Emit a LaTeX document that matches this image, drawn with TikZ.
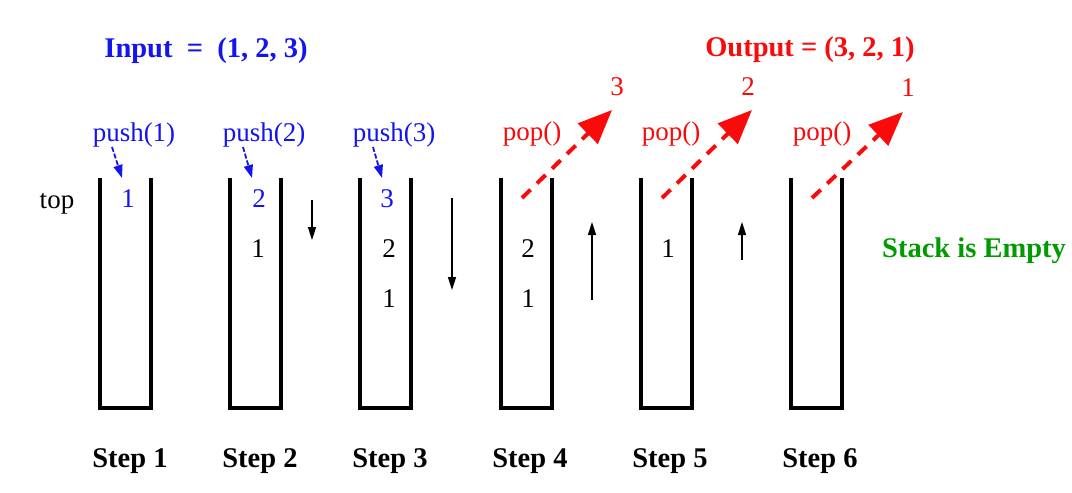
\documentclass[tikz,border=0pt]{standalone}
\usepackage{fontspec}
\setmainfont{Liberation Serif}
\usetikzlibrary{arrows.meta}
\definecolor{ublue}{RGB}{20,20,240}
\definecolor{ured}{RGB}{250,10,10}
\definecolor{ugreen}{RGB}{0,155,0}
\begin{document}
\begin{tikzpicture}[x=1pt,y=-1pt,
  txt/.style={font=\fontsize{27}{30}\selectfont, inner sep=0pt, anchor=base},
  btxt/.style={txt, font=\fontsize{28.5}{30}\selectfont\bfseries},
  wall/.style={line width=4pt, line join=miter},
  pusharr/.style={ublue, line width=1.8pt, dash pattern=on 5pt off 2pt, -{Triangle[length=13pt,width=9pt]}},
  poparr/.style={ured, line width=4pt, dash pattern=on 12pt off 9pt, -{Triangle[length=34pt,width=28pt]}},
  movearr/.style={black, line width=1.6pt, -{Triangle[length=13pt,width=8pt]}}]
\fill[white] (0,0) rectangle (1072,493);
\useasboundingbox (0,0) rectangle (1072,493);

% titles
\node[btxt, ublue] (inp) at (206,57) {Input\ \ =\ \ (1, 2, 3)};
\node[btxt, ured] (outp) at (810,56) {Output = (3, 2, 1)};
\node[btxt, ugreen, anchor=base west] (empty) at (882,257) {Stack is Empty};
\node[txt] (top) at (57,208) {top};

% stacks
\foreach \x [count=\i] in {100,230,360,501,641,791}{
  \coordinate (s\i tl) at (\x,178);
  \coordinate (s\i tr) at (\x+51,178);
  \draw[wall] (s\i tl) -- (\x,408) -- (\x+51,408) -- (s\i tr);
}

% stack contents
\node[txt, ublue] (a1) at (128,207) {1};
\node[txt, ublue] (b2) at (259,207) {2};
\node[txt] (b1) at (258,257) {1};
\node[txt, ublue] (c3) at (387,207) {3};
\node[txt] (c2) at (389,257) {2};
\node[txt] (c1) at (389,307) {1};
\node[txt] (d2) at (528,257) {2};
\node[txt] (d1) at (528,307) {1};
\node[txt] (e1) at (668,257) {1};

% operation labels
\node[txt, ublue] (push1) at (134,141) {push(1)};
\node[txt, ublue] (push2) at (264,141) {push(2)};
\node[txt, ublue] (push3) at (394,141) {push(3)};
\node[txt, ured] (pop4) at (532,140) {pop()};
\node[txt, ured] (pop5) at (671,140) {pop()};
\node[txt, ured] (pop6) at (822,140) {pop()};

% output values
\node[txt, ured] (o3) at (617,95) {3};
\node[txt, ured] (o2) at (748,95) {2};
\node[txt, ured] (o1) at (908,96) {1};

% push arrows
\coordinate (p1s) at (112,147); \coordinate (p1e) at (122,178);
\coordinate (p2s) at (243,147); \coordinate (p2e) at (252,178);
\coordinate (p3s) at (373,147); \coordinate (p3e) at (382,178);
\draw[pusharr] (p1s) -- (p1e);
\draw[pusharr] (p2s) -- (p2e);
\draw[pusharr] (p3s) -- (p3e);

% pop arrows
\coordinate (q4s) at (522,198); \coordinate (q4e) at (612,110);
\coordinate (q5s) at (662,198); \coordinate (q5e) at (752,110);
\coordinate (q6s) at (812,198); \coordinate (q6e) at (903,112);
\draw[poparr] (q4s) -- (q4e);
\draw[poparr] (q5s) -- (q5e);
\draw[poparr] (q6s) -- (q6e);

% movement arrows
\coordinate (m1s) at (312,200); \coordinate (m1e) at (312,240);
\coordinate (m2s) at (452,198); \coordinate (m2e) at (452,290);
\coordinate (m3s) at (592,300); \coordinate (m3e) at (592,222);
\coordinate (m4s) at (742,260); \coordinate (m4e) at (742,222);
\draw[movearr] (m1s) -- (m1e);
\draw[movearr] (m2s) -- (m2e);
\draw[movearr] (m3s) -- (m3e);
\draw[movearr] (m4s) -- (m4e);

% step labels
\foreach \x [count=\i] in {130,260,390,530,670,820}{
  \node[btxt] (step\i) at (\x,467) {Step \i};
}
\end{tikzpicture}
\end{document}
